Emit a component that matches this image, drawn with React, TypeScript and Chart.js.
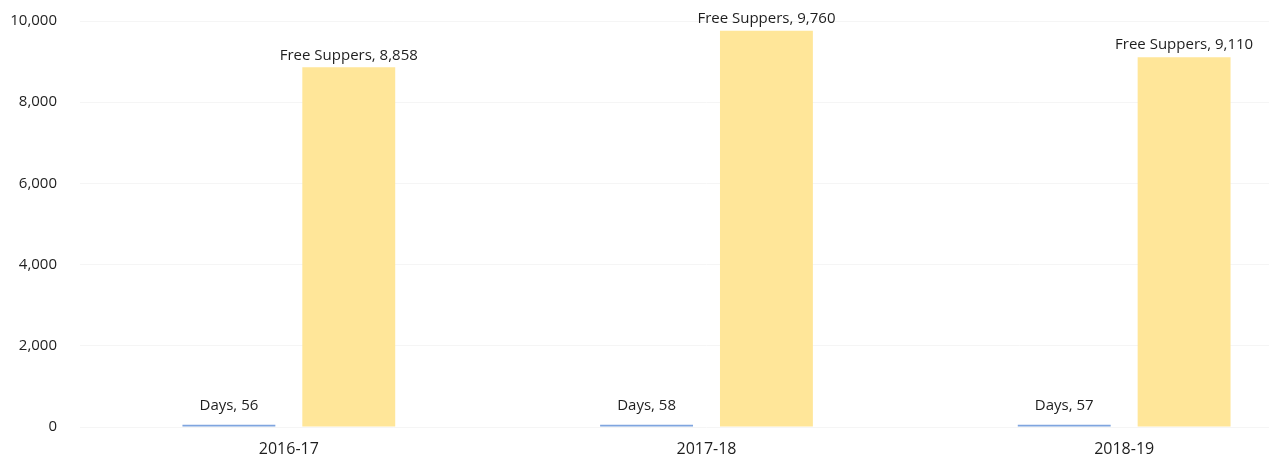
import React, { useEffect, useRef } from "react";
import { Chart, registerables } from "chart.js";

Chart.register(...registerables);

const categories = ["2016-17", "2017-18", "2018-19"];
const daysValues = [56, 58, 57];
const supperValues = [8858, 9760, 9110];
const seriesNames = ["Days", "Free Suppers"];
const yTicks = [0, 2000, 4000, 6000, 8000, 10000];

const FONT = "'Open Sans', sans-serif";

const labelPlugin = {
  id: "barLabels",
  afterDatasetsDraw(chart: any) {
    const ctx = chart.ctx;
    ctx.save();
    ctx.font = `15px ${FONT}`;
    ctx.fillStyle = "#1e1e1e";
    ctx.textAlign = "center";
    ctx.textBaseline = "middle";
    chart.data.datasets.forEach((ds: any, di: number) => {
      const meta = chart.getDatasetMeta(di);
      const off = ds.labelOffset ?? 12;
      meta.data.forEach((el: any, i: number) => {
        const v = ds.data[i] as number;
        ctx.fillText(`${ds.label}, ${v.toLocaleString("en-US")}`, el.x, el.y - off);
      });
    });
    ctx.restore();
  },
};

export default function App() {
  const ref = useRef<HTMLCanvasElement | null>(null);
  useEffect(() => {
    if (!ref.current) return;
    const chart = new Chart(ref.current, {
      type: "bar",
      data: {
        labels: categories,
        datasets: [
          {
            label: seriesNames[0],
            data: daysValues,
            backgroundColor: "#7fa5df",
            categoryPercentage: 0.574,
            barPercentage: 0.775,
            labelOffset: 19,
          } as any,
          {
            label: seriesNames[1],
            data: supperValues,
            backgroundColor: "#ffe699",
            categoryPercentage: 0.574,
            barPercentage: 0.775,
            labelOffset: 12,
          } as any,
        ],
      },
      options: {
        animation: false,
        responsive: true,
        maintainAspectRatio: false,
        layout: { padding: { top: 21, left: 0, right: 0, bottom: 0 } },
        plugins: { legend: { display: false }, tooltip: { enabled: false } },
        scales: {
          x: {
            grid: { display: false, drawTicks: false },
            border: { display: false },
            ticks: { font: { family: FONT, size: 16 }, color: "#1e1e1e", padding: 13 },
            afterFit: (s: any) => {
              s.height = 35;
            },
          },
          y: {
            min: 0,
            max: 10000,
            afterBuildTicks: (s: any) => {
              s.ticks = yTicks.map((v) => ({ value: v }));
            },
            grid: { color: "#f5f5f5", drawTicks: false },
            border: { display: false },
            ticks: {
              font: { family: FONT, size: 15 },
              color: "#1e1e1e",
              padding: 23,
              callback: (v: any) => Number(v).toLocaleString("en-US"),
            },
            afterFit: (s: any) => {
              s.width = 80;
              s.paddingTop = 0;
              s.paddingBottom = 0;
            },
          },
        },
      },
      plugins: [labelPlugin],
    });
    return () => chart.destroy();
  }, []);
  return (
    <div style={{ position: "absolute", left: 0, top: 0, width: 1269, height: 462, overflow: "hidden", background: "#fff" }}>
      <div style={{ position: "relative", width: 1333, height: 462 }}>
        <canvas ref={ref} />
      </div>
    </div>
  );
}
